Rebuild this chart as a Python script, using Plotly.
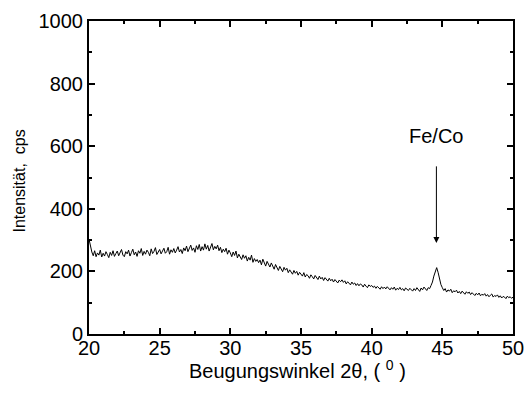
import numpy as np
import plotly.graph_objects as go

# Diffraction angle 2θ (degrees), sampled every 0.1°
two_theta = np.round(np.arange(200, 501) / 10.0, 1)

# Measured intensity (cps), one row per degree
intensity = [
    303, 278, 262, 250, 266, 247, 259, 252, 268, 246,
    258, 249, 263, 254, 244, 261, 251, 266, 248, 257,
    265, 250, 259, 270, 252, 247, 263, 256, 268, 249,
    260, 271, 253, 262, 248, 266, 258, 273, 251, 264,
    255, 268, 261, 250, 272, 257, 264, 276, 254, 262,
    270, 256, 266, 274, 258, 263, 277, 255, 269, 261,
    273, 259, 268, 279, 262, 270, 257, 275, 266, 281,
    263, 272, 284, 267, 275, 261, 282, 270, 286, 265,
    279, 268, 288, 271, 283, 265, 276, 289, 269, 280,
    272, 284, 266, 277, 260, 271, 263, 274, 255, 268,
    259, 247, 262, 251, 265, 243, 255, 248, 238, 253,
    242, 250, 233, 245, 236, 252, 229, 241, 232, 238,
    228, 236, 221, 239, 225, 217, 232, 222, 214, 227,
    218, 207, 222, 211, 203, 216, 208, 199, 213, 204,
    210, 196, 205, 199, 191, 203, 194, 200, 188, 197,
    191, 185, 196, 182, 190, 186, 178, 189, 183, 176,
    187, 179, 174, 185, 176, 181, 171, 180, 175, 169,
    178, 170, 175, 166, 174, 169, 163, 172, 167, 173,
    165, 170, 160, 167, 162, 157, 166, 159, 163, 155,
    161, 154, 160, 157, 150, 159, 153, 148, 157, 152,
    155, 149, 153, 146, 152, 148, 143, 151, 145, 150,
    144, 151, 147, 141, 148, 143, 150, 140, 146, 142,
    149, 141, 145, 138, 147, 143, 139, 146, 141, 137,
    145, 139, 148, 142, 136, 147, 141, 150, 143, 139,
    148, 145, 155, 166, 185, 203, 212, 197, 176, 158,
    148, 139, 145, 134, 141, 137, 143, 132, 138, 135,
    140, 131, 136, 129, 137, 133, 127, 135, 130, 134,
    126, 132, 128, 123, 130, 125, 131, 122, 127, 124,
    129, 121, 126, 119, 124, 128, 118, 123, 120, 125,
    117, 122, 115, 120, 118, 113, 121, 116, 119, 114,
    118,
]

# Peak marker: label position and arrow tip
peak_label = "Fe/Co"
peak_angle = 44.58
label_level = 633
arrow_tip = 291

x_title = "Beugungswinkel 2θ, ( <sup>0</sup> )"
y_title = "Intensität,  cps"

FONT = "Liberation Sans, Arial, Helvetica, sans-serif"

fig = go.Figure()
fig.add_trace(go.Scatter(
    x=two_theta, y=intensity, mode="lines",
    line=dict(color="black", width=1),
    showlegend=False, hoverinfo="skip",
))

# Label with an arrow pointing down to the reflection
fig.add_annotation(
    x=peak_angle, y=arrow_tip, ax=peak_angle, ay=label_level,
    xref="x", yref="y", axref="x", ayref="y",
    text=peak_label, showarrow=True, arrowhead=2, arrowsize=1.2,
    arrowwidth=1, arrowcolor="black", borderpad=19,
    font=dict(family=FONT, size=20, color="black"),
)

# Axis titles, placed relative to the plotting area
fig.add_annotation(
    x=0.492, y=-0.112, xref="paper", yref="paper",
    xanchor="center", yanchor="middle", showarrow=False,
    text=x_title, font=dict(family=FONT, size=20, color="black"),
)
fig.add_annotation(
    x=-0.163, y=0.49, xref="paper", yref="paper",
    xanchor="center", yanchor="middle", showarrow=False, textangle=-90,
    text=y_title, font=dict(family=FONT, size=16, color="black"),
)

axis_common = dict(
    showline=True, linecolor="black", linewidth=2, mirror="ticks",
    ticks="inside", ticklen=6, tickwidth=1.5, tickcolor="black",
    showgrid=False, zeroline=False, automargin=False,
    ticklabeloverflow="allow",
    tickfont=dict(family=FONT, size=20, color="black"),
)

fig.update_xaxes(
    range=[20, 50], dtick=5, tick0=20, ticklabelstandoff=-5,
    minor=dict(ticks="inside", ticklen=3, dtick=2.5, tickcolor="black", tickwidth=1.5),
    **axis_common,
)
fig.update_yaxes(
    range=[0, 1000], dtick=200, tick0=0,
    minor=dict(ticks="inside", ticklen=3, dtick=100, tickcolor="black", tickwidth=1.5),
    **axis_common,
)

fig.update_layout(
    width=524, height=398,
    margin=dict(l=89, r=11, t=21, b=64),
    plot_bgcolor="white", paper_bgcolor="white",
)

fig.write_html("out.html")
